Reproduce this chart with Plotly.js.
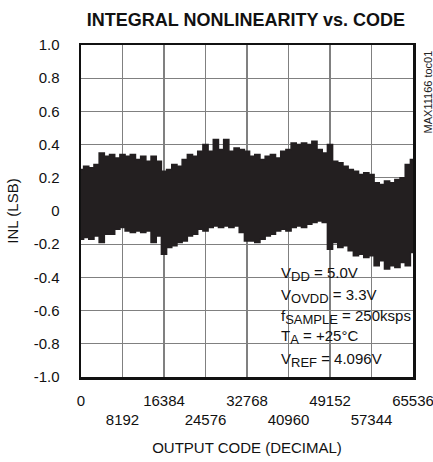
<!DOCTYPE html>
<html>
<head>
<meta charset="utf-8">
<script src="https://cdn.plot.ly/plotly-3.0.1.min.js"></script>
<style>
  html, body { margin: 0; padding: 0; background: #fff; }
  #chart { width: 433px; height: 462px; }
</style>
</head>
<body>
<div id="chart"></div>
<script>
// Output codes (every 1024 codes)
var codes = [];
for (var k = 0; k <= 64; k++) codes.push(k * 1024);

// Upper envelope of INL band (LSB)
var inlMax = [0.25, 0.27, 0.26, 0.28, 0.35, 0.33, 0.34, 0.32, 0.34, 0.33,
              0.34, 0.31, 0.33, 0.30, 0.33, 0.30, 0.24, 0.25, 0.28, 0.27,
              0.31, 0.34, 0.33, 0.36, 0.40, 0.36, 0.43, 0.37, 0.43, 0.36,
              0.38, 0.37, 0.36, 0.33, 0.34, 0.31, 0.33, 0.34, 0.32, 0.36,
              0.37, 0.41, 0.40, 0.41, 0.40, 0.42, 0.37, 0.35, 0.40, 0.30,
              0.29, 0.27, 0.25, 0.24, 0.22, 0.23, 0.22, 0.17, 0.16, 0.18,
              0.17, 0.19, 0.20, 0.28, 0.31];

// Lower envelope of INL band (LSB)
var inlMin = [-0.17, -0.16, -0.17, -0.15, -0.19, -0.14, -0.14, -0.11, -0.10, -0.12,
              -0.13, -0.12, -0.13, -0.12, -0.19, -0.15, -0.26, -0.22, -0.21, -0.19,
              -0.18, -0.15, -0.14, -0.11, -0.12, -0.10, -0.09, -0.10, -0.09, -0.10,
              -0.09, -0.13, -0.18, -0.18, -0.19, -0.17, -0.15, -0.14, -0.12, -0.11,
              -0.12, -0.10, -0.09, -0.10, -0.08, -0.07, -0.06, -0.07, -0.23, -0.19,
              -0.22, -0.21, -0.24, -0.27, -0.26, -0.28, -0.27, -0.33, -0.30, -0.35,
              -0.33, -0.34, -0.31, -0.33, -0.25];

var xTickVals = [0, 8192, 16384, 24576, 32768, 40960, 49152, 57344, 65536];
var xTickText = ["0", "<br>8192", "16384", "<br>24576", "32768", "<br>40960", "49152", "<br>57344", "65536"];
var yTickVals = [-1.0, -0.8, -0.6, -0.4, -0.2, 0, 0.2, 0.4, 0.6, 0.8, 1.0];
var yTickText = ["-1.0", "-0.8", "-0.6", "-0.4", "-0.2", "0", "0.2", "0.4", "0.6", "0.8", "1.0"];

var condLines = [
  "V<sub><span style=\"font-size:13px\">DD</span></sub> = 5.0V",
  "V<sub><span style=\"font-size:13px\">OVDD</span></sub> = 3.3V",
  "f<sub><span style=\"font-size:13px\">SAMPLE</span></sub> = 250ksps",
  "T<sub><span style=\"font-size:13px\">A</span></sub> = +25°C",
  "V<sub><span style=\"font-size:13px\">REF</span></sub> = 4.096V"
];

var FONT = "Liberation Sans, Arial, Helvetica, sans-serif";
var bandColor = "#231f20";

var traces = [
  {x: codes, y: inlMax, type: "scatter", mode: "lines",
   line: {color: bandColor, width: 1.5, shape: "hvh"}, hoverinfo: "skip", showlegend: false},
  {x: codes, y: inlMin, type: "scatter", mode: "lines", fill: "tonexty",
   fillcolor: bandColor, line: {color: bandColor, width: 1.5, shape: "hvh"}, hoverinfo: "skip", showlegend: false}
];

var annotations = [];
var lineY = [0.309, 0.244, 0.181, 0.121, 0.050];
for (var i = 0; i < condLines.length; i++) {
  annotations.push({
    xref: "paper", yref: "paper", x: 0.596, y: lineY[i],
    xanchor: "left", yanchor: "middle", showarrow: false,
    text: condLines[i], font: {family: FONT, size: 15, color: "#111"}
  });
}
annotations.push({
  xref: "paper", yref: "paper", x: 1.048, y: 0.86,
  xanchor: "center", yanchor: "middle", showarrow: false, textangle: -90,
  text: "MAX11166 toc01", font: {family: FONT, size: 11, color: "#222"}
});

var layout = {
  width: 433, height: 462,
  margin: {l: 81, r: 20, t: 45, b: 85},
  paper_bgcolor: "#fff", plot_bgcolor: "#fff",
  font: {family: FONT, size: 15, color: "#111"},
  title: {text: "INTEGRAL NONLINEARITY vs. CODE", x: 0.568, xanchor: "center", y: 0.958, yanchor: "middle",
          font: {family: FONT, size: 18, weight: "bold", color: "#111"}},
  xaxis: {
    range: [0, 65536.5], tickvals: xTickVals, ticktext: xTickText, tickangle: 0,
    ticklabeloverflow: "allow",
    showgrid: true, gridcolor: "#808080", gridwidth: 1.3,
    showline: true, mirror: true, linecolor: "#111", linewidth: 2.5,
    ticks: "", zeroline: false, ticklabelstandoff: 8,
    tickfont: {family: FONT, size: 15, color: "#111"},
    title: {text: "OUTPUT CODE (DECIMAL)", standoff: 16, font: {family: FONT, size: 15, color: "#111"}},
    fixedrange: true
  },
  yaxis: {
    range: [-1, 1], tickvals: yTickVals, ticktext: yTickText,
    showgrid: true, gridcolor: "#808080", gridwidth: 1.3,
    showline: true, mirror: true, linecolor: "#111", linewidth: 2.5,
    ticks: "", zeroline: false, ticklabelstandoff: 16,
    tickfont: {family: FONT, size: 15, color: "#111"},
    title: {text: "INL (LSB)", standoff: 12, font: {family: FONT, size: 15, color: "#111"}},
    fixedrange: true
  },
  shapes: [{
    type: "rect", xref: "paper", yref: "paper", layer: "between",
    x0: 0.575, x1: 0.988, y0: 0.021, y1: 0.346,
    fillcolor: "#fff", line: {width: 0}
  }],
  annotations: annotations
};

Plotly.newPlot("chart", traces, layout, {displayModeBar: false, staticPlot: true});
</script>
</body>
</html>
